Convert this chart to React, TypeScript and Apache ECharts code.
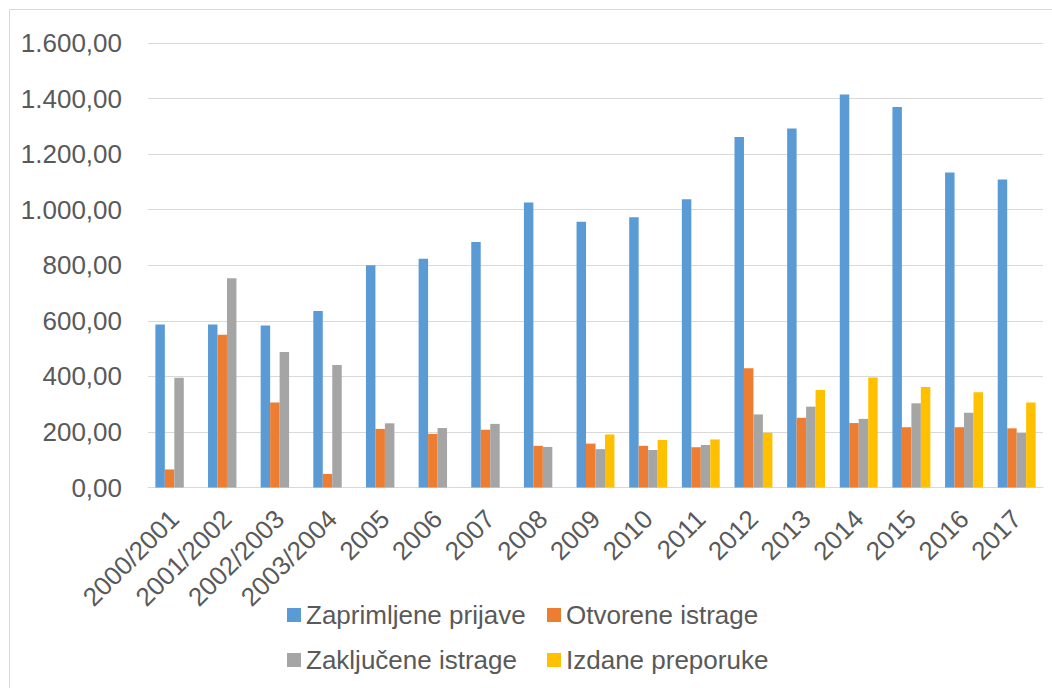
import React, { useEffect, useRef } from "react";
import * as echarts from "echarts";

const categories = [
  "2000/2001", "2001/2002", "2002/2003", "2003/2004", "2005", "2006", "2007", "2008",
  "2009", "2010", "2011", "2012", "2013", "2014", "2015", "2016", "2017",
];
const zaprimljene = [587, 587, 583, 635, 800, 823, 884, 1026, 957, 973, 1038, 1262, 1292, 1415, 1370, 1134, 1109];
const otvorene = [65, 550, 306, 49, 211, 193, 208, 150, 158, 150, 145, 429, 251, 232, 217, 217, 213];
const zakljucene = [395, 753, 488, 441, 231, 214, 229, 146, 138, 135, 153, 263, 291, 247, 303, 269, 196];
const izdane: (number | null)[] = [null, null, null, null, null, null, null, null, 191, 171, 173, 197, 351, 396, 362, 343, 306];

const seriesNames = ["Zaprimljene prijave", "Otvorene istrage", "Zaključene istrage", "Izdane preporuke"];
const colors = ["#5B9BD5", "#ED7D31", "#A5A5A5", "#FFC000"];
const yTicks = { min: 0, max: 1600, interval: 200 };

function fmt(v: number): string {
  const s = Math.round(v).toString().replace(/\B(?=(\d{3})+(?!\d))/g, ".");
  return s + ",00";
}

export default function App() {
  const ref = useRef<HTMLDivElement>(null);
  useEffect(() => {
    if (!ref.current) return;
    const chart = echarts.init(ref.current, undefined, { renderer: "svg" });
    const font = "'Liberation Sans', Arial, sans-serif";
    const textColor = "#595959";
    const legendPos = [
      { left: 287, top: 602 },
      { left: 547, top: 602 },
      { left: 287, top: 647 },
      { left: 547, top: 647 },
    ];
    const data = [zaprimljene, otvorene, zakljucene, izdane];
    chart.setOption({
      animation: false,
      backgroundColor: "#ffffff",
      graphic: [
        {
          type: "rect",
          shape: { x: 9.5, y: 9.5, width: 1100, height: 800 },
          style: { fill: "none", stroke: "#d9d9d9", lineWidth: 1 },
          silent: true,
        },
      ],
      grid: { left: 148, right: 9, top: 43, bottom: 200.5, containLabel: false },
      legend: seriesNames.map((n, i) => ({
        data: [n],
        left: legendPos[i].left,
        top: legendPos[i].top,
        icon: "rect",
        itemWidth: 14,
        itemHeight: 14,
        itemGap: 6,
        selectedMode: false,
        textStyle: { fontFamily: font, fontSize: 26, color: textColor },
        padding: 0,
      })),
      xAxis: {
        type: "category",
        data: categories,
        axisLine: { lineStyle: { color: "#d9d9d9", width: 1 } },
        axisTick: { show: false },
        axisLabel: {
          rotate: 45,
          interval: 0,
          margin: 27,
          fontFamily: font,
          fontSize: 26,
          color: textColor,
        },
      },
      yAxis: {
        type: "value",
        min: yTicks.min,
        max: yTicks.max,
        interval: yTicks.interval,
        axisLine: { show: false },
        axisTick: { show: false },
        splitLine: { lineStyle: { color: "#d9d9d9", width: 1 } },
        axisLabel: {
          formatter: (v: number) => fmt(v),
          margin: 26,
          fontFamily: font,
          fontSize: 26,
          color: textColor,
        },
      },
      series: seriesNames.map((n, i) => ({
        name: n,
        type: "bar",
        data: data[i],
        itemStyle: { color: colors[i] },
        barGap: "0%",
        barCategoryGap: "28%",
      })),
    });
    return () => chart.dispose();
  }, []);
  return (
    <div
      ref={ref}
      style={{ position: "fixed", left: 0, top: 0, width: 1052, height: 688 }}
    />
  );
}
